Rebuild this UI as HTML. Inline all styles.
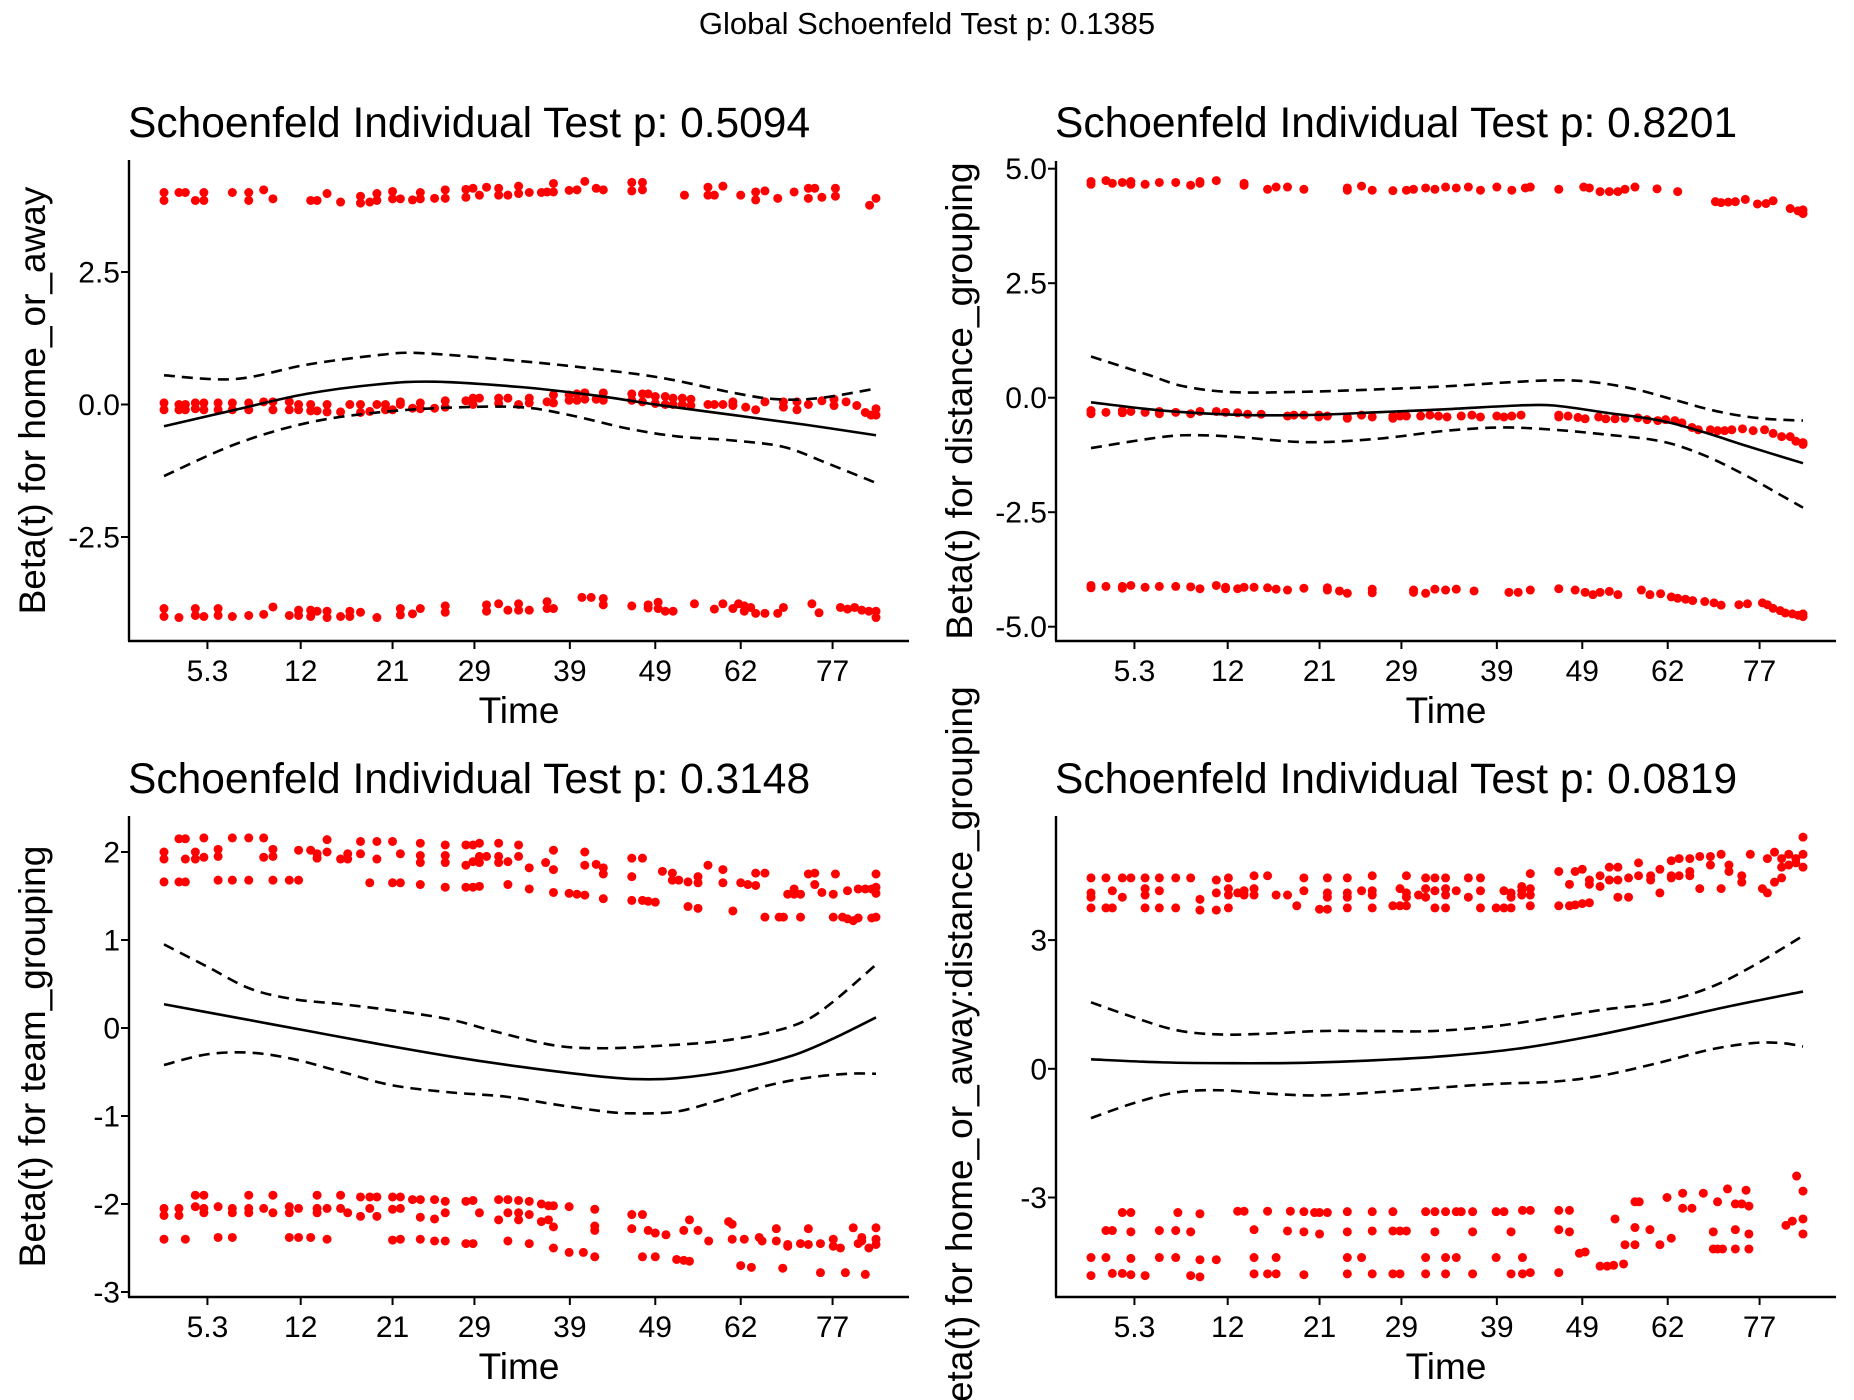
<!DOCTYPE html>
<html><head><meta charset="utf-8">
<style>
html,body{margin:0;padding:0;background:#fff;}
svg{display:block;font-family:"Liberation Sans",Arial,sans-serif;}
</style></head>
<body>
<svg id="chart" width="1854" height="1400" viewBox="0 0 1854 1400" xmlns="http://www.w3.org/2000/svg">
<rect width="1854" height="1400" fill="#fff"/>
<text x="927" y="34" font-size="31" text-anchor="middle">Global Schoenfeld Test p: 0.1385</text>
</svg>
<script>
// ---- shared x axis (transformed time, 0..100 rank scale) ----
const xTickLabels = ["5.3","12","21","29","39","49","62","77"];
const xTickU = [6.1,19.2,32.1,43.6,57.0,69.0,81.0,93.9];

// ---- panel 1: home_or_away ----
const p1Title = "Schoenfeld Individual Test p: 0.5094";
const p1YLabel = "Beta(t) for home_or_away";
const p1YTicks = [2.5,0,-2.5];
const p1YTickLabels = ["2.5","0.0","-2.5"];
const p1Points = [
[0,4.0,3.85,0.03,-0.1,-3.85,-4.0],[2.1,4.0,0.0,-0.1,-4.02],[3.0,4.0,0.0,-0.1],[4.4,3.85,0.03,-0.08,-3.85,-3.98],[5.6,4.0,3.85,0.03,-0.1,-4.0],
[7.6,0.03,-0.1,-3.85,-3.98],[9.6,4.0,0.03,-0.1,-4.0],[11.9,4.0,3.85,0.03,-0.1,-3.98],[14.0,4.05,0.05,-3.96],[15.3,3.88,0.05,-0.1,-3.82],
[17.6,0.05,-0.1,-3.98],[18.9,0.0,-0.1,-3.88,-3.98],[20.6,3.85,0.0,-0.12,-3.88,-4.0],[21.5,3.85,-0.12,-3.9],[22.9,3.98,0.0,-0.14,-3.9,-4.02],
[24.8,3.82,-0.14,-4.0],[26.1,0.0,-3.9,-4.0],[27.6,3.93,3.8,0.0,-0.15,-3.92],[28.9,3.82,-0.13],[29.9,3.85,3.98,0.0,-4.02],[31.1,0.0,-0.1],
[32.1,4.02,3.88,-0.1],[33.2,3.88,0.05,0.0,-3.85,-3.97],[34.9,3.86,-0.07,-3.95],[36.0,4.0,3.88,0.03,-0.08,-3.85],[38.0,3.89,-0.07],
[39.5,4.05,3.89,0.07,-0.05,-3.8,-3.92],[42.4,4.06,3.91,0.07],[43.4,4.08,0.12,0.0],[44.3,3.95,0.12],[45.3,4.1,-3.78,-3.9],[47.0,4.08,3.95,0.12,0.02,-3.76],
[48.3,3.95,0.12,-3.88],[49.8,4.12,3.98,0.0,-3.76,-3.88],[51.3,4.0,0.12,0.03,-3.88],[53.0,4.0],[53.8,4.01,0.05,-3.72,-3.85],[54.7,4.17,4.01,0.18,0.03,-3.85],
[56.9,4.04,0.18,0.08],[58.0,4.05,0.2,0.08],[58.7,-3.64],[59.1,4.21,0.22,0.1],[60.0,-3.64],[60.7,4.08,0.1],[61.7,4.05,0.22,0.08,-3.66,-3.78],
[65.7,4.19,4.03,0.2,0.08,-3.8],[67.2,4.19,4.05,0.2,0.05],[68.0,0.2,-3.78,-3.84],[69.0,0.15,0.02],[69.4,-3.73,-3.85],[70.4,0.15,0.0,-3.9],[71.5,0.12,0.0,-3.9],
[72.8,0.12,0.0],[73.1,3.95],[74.0,0.1,-0.02],[74.5,-3.76],[76.4,4.1,3.95,0.0],[77.3,3.95,0.0,-3.86],[78.5,4.12,0.0,-3.76],[79.9,0.05,-0.02,-3.85],
[80.7,-3.76],[81.0,3.95],[81.5,-3.8,-3.9],[81.7,-0.05],[82.4,-3.83],[83.1,4.01,3.86,-0.1,-3.94],[84.4,4.03,0.05,-3.94],[86.2,3.89,-3.94],[87.0,0.05,-0.05,-3.83],
[88.5,4.01],[88.9,0.05,-0.1],[90.5,4.08,3.89,0.0],[91.0,-3.76],[91.4,4.08],[92.0,-3.93],[92.4,3.91,0.07],[94.1,0.1,-0.02],[94.3,4.08,3.93],[95.0,-3.83],
[95.8,0.05],[96.0,-3.86],[97.0,-3.83],[97.3,-0.02],[98.0,-3.88],[98.5,-0.15],[99.0,-3.9],[99.1,3.76],[99.3,-0.2],[100,3.89,-0.08,-0.2,-3.9,-4.02]];
const p1FitU = [0,10,20,30,38,50,60,70,80,90,100];
const p1Fit = [-0.41,-0.1,0.2,0.38,0.43,0.33,0.18,-0.02,-0.2,-0.38,-0.58];
const p1UpU = [0,10,20,30,36,50,60,70,80,86,92,100];
const p1Up = [0.55,0.48,0.75,0.93,0.97,0.82,0.68,0.5,0.22,0.1,0.12,0.3];
const p1LoU = [0,10,20,30,40,50,57,65,72,80,87,93,100];
const p1Lo = [-1.35,-0.75,-0.35,-0.15,-0.06,-0.05,-0.2,-0.45,-0.6,-0.68,-0.8,-1.1,-1.48];

// ---- panel 2: distance_grouping ----
const p2Title = "Schoenfeld Individual Test p: 0.8201";
const p2YLabel = "Beta(t) for distance_grouping";
const p2YTicks = [5,2.5,0,-2.5,-5];
const p2YTickLabels = ["5.0","2.5","0.0","-2.5","-5.0"];
const p2Points = [
[0,4.72,4.66,-0.28,-0.35,-4.1,-4.15],[2.1,4.74,-0.32,-4.12],[3.0,4.68],[4.4,4.7,-0.28,-0.33,-4.12,-4.16],[5.6,4.72,4.66,-0.3,-4.1],[7.6,4.66,-0.32,-4.14],
[9.6,4.7,-0.3,-0.35,-4.12],[11.9,4.7,-0.32,-4.12],[14.0,4.64,-0.35,-4.13],[15.3,4.68,4.72,-0.3,-4.17],[17.6,4.74,-0.3,-4.1],[18.9,-0.32,-4.14,-4.17],
[20.6,-0.33,-4.17],[21.5,4.64,4.68,-4.14],[22.0,-0.36],[22.9,-4.14],[23.9,-0.36],[24.8,4.55,-4.15],[26.0,4.6,-4.18],[27.6,4.6,-0.4,-4.2],[28.5,-0.38],
[29.9,4.55,-0.38,-4.16],[32.0,-0.38,-0.42],[33.2,-0.4,-4.2,-4.15],[34.9,-4.22],[36.0,4.53,4.58,-0.42,-0.45,-4.27],[38.0,4.62,-0.38],[39.5,4.53,-0.42,-4.18,-4.26],
[42.4,4.52,-0.4,-0.45],[43.4,-0.4],[44.3,4.53,-0.4],[45.3,4.55,-4.2,-4.25],[46.3,-0.4],[47.0,4.58,-4.27],[47.6,-0.38],[48.3,4.55,-4.18],[48.8,-0.4],
[49.8,4.6,-4.2],[50.0,-0.42],[51.3,4.58,-4.18],[52.0,-0.4],[53.0,4.6],[53.5,-0.38],[53.8,-4.22],[54.7,4.53,-0.42],[57.0,4.6,-0.4],[58.0,-0.42],
[58.7,-4.25],[59.1,4.53,-0.4],[60.0,-4.25],[60.4,-0.38],[61.0,4.58],[61.7,4.6,-4.2],[65.7,4.55,-0.38,-0.42,-4.17],[67.0,-0.4],[68.0,-4.2],[68.4,-0.43],
[69.2,4.6],[69.4,-0.46,-4.25],[70.0,4.58],[70.5,-4.3],[71.3,-0.42],[71.5,4.5,-4.25],[72.3,-0.46],[72.8,4.5,-4.23],[73.6,-0.46],[74.0,4.5,-4.3],[75.0,4.55,-0.45],
[76.4,4.6],[76.8,-0.44],[77.3,-4.2],[78.1,-0.48],[78.5,-4.3],[79.5,4.56],[79.6,-0.5],[80.0,-4.28],[80.7,-0.48],[81.5,-4.35],[82.0,-0.5],[82.4,4.5,-4.38],
[83.0,-0.55],[83.5,-4.4],[84.4,-0.65],[84.5,-4.43],[85.3,-0.7],[86.2,-4.45],[87.0,-0.7],[87.5,-4.48],[87.7,4.28],[88.0,-0.72],[88.5,4.26,-4.53],[89.0,-0.72],
[89.5,4.27],[90.0,-0.7],[90.5,4.28],[91.0,-4.52],[91.5,-0.68],[91.9,4.33],[92.2,-4.5],[93.0,-0.72],[93.6,4.23],[94.3,-4.48],[94.6,-0.7],[94.8,4.24],[95.0,-4.52],
[95.8,4.3,-0.78,-4.6],[96.8,-4.65],[97.0,-0.85],[97.5,-4.7],[98.2,4.13,-0.85],[98.5,-4.72],[99.0,-0.95],[99.3,4.08,-4.75],[100,4.02,4.1,-0.98,-1.02,-4.78,-4.72]];
const p2FitU = [0,10,20,30,40,50,60,65,72,80,86,92,100];
const p2Fit = [-0.1,-0.28,-0.37,-0.38,-0.32,-0.25,-0.17,-0.17,-0.32,-0.5,-0.75,-1.05,-1.43];
const p2UpU = [0,8,13,20,30,40,50,58,65,70,76,82,88,94,100];
const p2Up = [0.9,0.5,0.25,0.12,0.13,0.18,0.25,0.33,0.38,0.35,0.2,-0.05,-0.3,-0.45,-0.5];
const p2LoU = [0,8,13,20,30,40,50,58,65,72,80,86,92,96,100];
const p2Lo = [-1.1,-0.9,-0.82,-0.85,-0.97,-0.9,-0.72,-0.65,-0.7,-0.8,-0.95,-1.25,-1.7,-2.05,-2.4];

// ---- panel 3: team_grouping ----
const p3Title = "Schoenfeld Individual Test p: 0.3148";
const p3YLabel = "Beta(t) for team_grouping";
const p3YTicks = [2,1,0,-1,-2,-3];
const p3YTickLabels = ["2","1","0","-1","-2","-3"];
const p3Points = [
[0,2.0,1.92,1.66,-2.05,-2.13,-2.4],[2.1,2.15,1.66,-2.05,-2.13],[3.0,2.15,1.92,1.66,-2.4],[4.4,2.0,1.92,-2.03,-1.9],[5.6,2.16,1.94,-1.9,-2.05,-2.1],
[7.6,2.03,1.95,1.68,-2.03,-2.38],[9.6,2.16,1.68,-2.05,-2.1,-2.38],[11.9,2.16,1.68,-1.9,-2.05,-2.1],[14.0,2.16,1.94,-2.05],[15.3,2.03,1.95,1.68,-1.9,-2.1],
[17.6,1.68,-2.03,-2.1,-2.38],[18.9,2.02,1.68,-2.05,-2.38],[20.6,2.02,-2.38],[21.5,1.98,1.93,-1.9,-2.05,-2.1],[22.9,2.14,2.0,-2.05,-2.4],[24.8,1.92,-1.9,-2.05],
[25.8,1.98,1.92,-2.1],[27.6,2.12,1.98,-1.92,-2.14],[28.9,1.65,-1.92,-2.05],[29.9,2.12,1.92,-1.92,-2.14],[32.1,2.12,1.65,-1.92,-2.06,-2.41],[33.2,1.98,1.65,-1.92,-2.05,-2.4],
[34.9,-1.95],[36.0,2.1,1.96,1.88,1.63,-1.95,-2.15,-2.4],[38.0,-1.95,-2.17,-2.42],[39.5,2.08,1.96,1.88,1.6,-1.97,-2.1,-2.42],[42.4,2.08,1.85,1.6,-1.97,-2.45],
[43.4,2.08,1.89,1.6,-1.96,-2.45],[44.3,2.1,1.95,1.88,1.61,-2.1],[45.3,1.95],[47.0,2.1,1.95,1.88,-1.95,-2.18],[48.3,1.89,1.63,-1.95,-2.1,-2.42],
[49.8,2.08,1.95,-1.96,-2.1,-2.18],[51.3,1.82,1.58,-1.97,-2.12,-2.45],[53.0,-2.0,-2.2],[53.6,1.88],[54.0,-2.02,-2.18],[54.7,2.02,1.8,1.54,-2.02,-2.26,-2.5],
[56.9,1.53,-2.03,-2.55],[58.0,1.52],[58.9,-2.55],[59.1,2.0,1.85,1.51],[60.5,-2.06,-2.25,-2.3,-2.6],[60.7,1.86],[61.7,1.82,1.75,1.47],[65.7,1.93,1.72,1.45,-2.12,-2.28],
[67.2,1.93,1.45,-2.12,-2.6],[68.0,1.44,-2.3],[69.0,1.43,-2.33,-2.6],[70.0,1.78],[70.5,-2.35],[71.4,1.76,1.68],[72.0,-2.63],[72.3,1.68],[73.0,-2.3,-2.64],
[73.6,1.66,1.38],[73.8,-2.18,-2.65],[75.0,1.72,1.65,1.36,-2.3],[76.4,1.85],[76.5,-2.42],[78.5,1.8,1.65],[79.3,-2.2],[79.8,-2.4,-2.23],[79.9,1.33],
[81.0,1.65,-2.7],[81.5,-2.4],[82.0,1.63],[82.5,-2.72],[83.1,1.76,1.62],[83.6,-2.38],[84.0,-2.42],[84.4,1.76,1.26],[86.0,-2.28,-2.42],[86.4,1.26],[86.9,-2.73],
[87.0,1.26],[87.6,1.52,-2.46,-2.48],[88.5,1.58,1.52],[89.4,1.52,1.26,-2.45],[90.5,1.75,-2.28,-2.46],[91.4,1.76,1.63],[92.2,-2.45,-2.78],[92.4,1.54],
[94.0,1.52,1.26,-2.4,-2.48],[94.3,1.75],[95.0,-2.5],[95.3,1.26],[95.7,-2.78],[96.0,1.56,1.24],[96.8,1.22,-2.27],[97.5,1.58,1.25,-2.45],[98.0,-2.42,-2.38],
[98.5,1.58,-2.8],[99.0,-2.5],[99.4,1.58,1.25],[100,1.75,1.6,1.53,1.26,-2.27,-2.46,-2.4]];
const p3FitU = [0,10,20,30,40,50,60,66,72,80,88,94,100];
const p3Fit = [0.27,0.12,-0.03,-0.18,-0.32,-0.44,-0.54,-0.58,-0.57,-0.48,-0.32,-0.12,0.12];
const p3UpU = [0,6,12,18,25,32,40,47,55,62,70,78,85,90,94,100];
const p3Up = [0.95,0.7,0.45,0.33,0.27,0.2,0.1,-0.05,-0.2,-0.23,-0.2,-0.15,-0.05,0.08,0.3,0.72];
const p3LoU = [0,6,12,18,25,32,40,48,55,62,66,72,78,84,90,96,100];
const p3Lo = [-0.42,-0.3,-0.28,-0.35,-0.5,-0.65,-0.73,-0.78,-0.87,-0.95,-0.97,-0.95,-0.82,-0.67,-0.57,-0.52,-0.52];

// ---- panel 4: home_or_away:distance_grouping ----
const p4Title = "Schoenfeld Individual Test p: 0.0819";
const p4YLabel = "Beta(t) for home_or_away:distance_grouping";
const p4YTicks = [3,0,-3];
const p4YTickLabels = ["3","0","-3"];
const p4Points = [
[0,4.45,4.1,4.0,3.75,-4.4,-4.82],[2.1,4.45,3.75,-3.77,-4.4],[3.0,4.15,3.75,-3.77,-4.77],[4.4,4.45,4.0,-3.35,-4.77],[5.6,4.45,-3.35,-3.8,-4.42,-4.8],
[7.6,4.45,4.2,4.05,3.75,-4.82],[9.6,4.45,4.15,3.75,-3.77,-4.4],[11.9,4.45,3.75,-3.77,-4.4],[12.2,-3.35],[14.0,4.45,-3.8,-4.82],[15.3,3.95,3.7,-3.38,-4.45,-4.85],
[17.6,4.4,4.1,3.7,-4.45],[19.3,4.45,4.2,4.05,3.75],[20.6,4.1,-3.32],[21.5,4.15,4.05,-3.32],[22.9,4.5,4.2,4.05,-3.75,-4.4,-4.78],[24.8,4.5,-3.32,-4.78],
[26.0,4.05,-4.4,-4.78],[27.6,4.05,-3.78],[28.0,-3.32],[28.9,3.8],[29.9,4.45,4.15,-3.33,-3.8,-4.8],[31.4,-3.35],[32.1,3.72,-3.35,-3.85],
[33.2,4.45,4.1,4.0,3.72,-3.35],[36.0,4.45,4.1,4.0,3.75,-3.33,-3.8,-4.4,-4.78],[38.0,4.15,-4.4],[39.5,4.5,4.15,4.05,3.75,-3.33,-3.78,-4.78],
[42.4,3.8,-3.33,-3.78,-4.78],[43.4,4.2,3.8,-3.78,-4.78],[44.3,4.5,4.1,4.0,3.8,-3.78],[46.0,4.05],[47.0,4.45,4.2,4.0,-3.33,-4.4,-4.78],
[48.3,4.45,4.15,3.75,-3.33,-3.8],[49.8,4.45,4.2,4.05,3.75,-3.33,-4.4,-4.78],[51.3,4.15,-3.33,-4.4],[52.0,-3.33],[53.0,4.45,4.0],[53.6,-3.33,-3.8,-4.78],
[54.7,4.45,4.15,3.75],[56.9,3.75,-3.33,-4.4],[58.0,4.15,3.75,-3.33],[59.0,4.1,4.0,3.75,-3.8,-4.78],[60.5,4.25,4.05,4.15],[60.6,-3.3,-4.4,-4.78],
[61.7,4.55,4.2,4.05,3.8,-3.3,-4.75],[65.7,4.6,3.8,-3.3,-3.75,-4.75],[67.2,4.3,3.8,-3.3,-3.8],[68.0,4.6,3.82],[68.6,-4.3],[69.0,4.65,3.85],[69.4,-4.27],
[70.0,4.4,4.3,3.87],[71.5,4.5,4.25,-4.6],[72.5,-4.6],[72.8,4.7,4.4],[73.4,-4.58],[73.6,-3.5],[74.0,4.7,4.4,4.0],[74.8,-4.55],[75.0,-4.1],[75.5,4.45,4.0],
[76.4,-3.1,-3.7,-4.1],[76.9,4.8,4.5],[77.0,-3.1],[78.5,-3.75],[78.6,4.5,4.4],[79.9,4.65,4.1,-4.1],[80.9,-3.0],[81.5,4.85,4.5,4.45,-3.95],
[82.6,4.9,4.5],[83.1,-2.9,-3.25],[84.1,4.9,4.6,4.5],[84.4,-3.25],[85.5,4.95,4.2],[86.0,-2.9],[87.0,4.95,4.75],[87.4,-3.8,-4.2],[88.0,-3.1,-4.2],
[88.5,5.0,4.2],[88.7,-4.2],[89.4,-2.8],[89.6,4.75,4.6],[90.5,-3.15,-3.75,-4.2],[91.4,4.5,4.35,-3.15],[92.0,-2.83],[92.4,-3.2,-3.85,-4.2],[92.6,5.0],
[94.3,4.2],[95.0,4.1,4.9],[96.0,5.05,4.35],[97.0,4.9,4.7,4.45],[97.6,-3.65],[98.0,4.75,5.0],[98.5,-3.55],[99.0,4.9,4.8],[99.1,-2.5],[100,5.4,5.0,4.7,-3.5,-2.85,-3.85]];
const p4FitU = [0,10,20,30,40,50,60,70,80,90,100];
const p4Fit = [0.22,0.15,0.13,0.14,0.2,0.3,0.47,0.75,1.1,1.47,1.8];
const p4UpU = [0,6,12,18,25,32,40,48,57,65,72,80,87,93,100];
const p4Up = [1.55,1.2,0.9,0.8,0.82,0.88,0.88,0.88,1.0,1.2,1.38,1.55,1.9,2.4,3.1];
const p4LoU = [0,6,12,18,25,32,40,48,57,65,72,80,87,93,97,100];
const p4Lo = [-1.15,-0.8,-0.55,-0.5,-0.58,-0.62,-0.55,-0.45,-0.35,-0.3,-0.15,0.15,0.45,0.6,0.6,0.52];

const NS = "http://www.w3.org/2000/svg";
const svg = document.getElementById("chart");
function mk(tag, attrs, parent){ const e=document.createElementNS(NS,tag); for(const k in attrs) e.setAttribute(k,attrs[k]); (parent||svg).appendChild(e); return e; }

function smoothPath(pts){
  let d = "M"+pts[0][0].toFixed(2)+","+pts[0][1].toFixed(2);
  for(let i=0;i<pts.length-1;i++){
    const p0=pts[Math.max(0,i-1)], p1=pts[i], p2=pts[i+1], p3=pts[Math.min(pts.length-1,i+2)];
    const c1=[p1[0]+(p2[0]-p0[0])/6, p1[1]+(p2[1]-p0[1])/6];
    const c2=[p2[0]-(p3[0]-p1[0])/6, p2[1]-(p3[1]-p1[1])/6];
    d+=" C"+c1[0].toFixed(2)+","+c1[1].toFixed(2)+" "+c2[0].toFixed(2)+","+c2[1].toFixed(2)+" "+p2[0].toFixed(2)+","+p2[1].toFixed(2);
  }
  return d;
}

function drawPanel(cfg){
  const g = mk("g",{});
  
  
  const xS = u => cfg.ox + 164 + u*7.12;
  const yS = v => cfg.y0 - v*cfg.k;
  const axL = cfg.ox + 129, axR = cfg.ox + 909;
  const t = mk("text",{x:cfg.ox+128,y:cfg.titleY,"font-size":42.5},g);
  t.textContent = cfg.title;
  
  
  const pg = mk("g",{fill:"#ff0000"},g);
  
  
  cfg.points.forEach(row=>{
    for(let j=1;j<row.length;j++){
      const c = mk("circle",{cx:xS(row[0]).toFixed(2),cy:yS(row[j]).toFixed(2),r:4.5},pg);
      
      
    }
  });
  const curve = (us, vs, dash, nm) => {
    const p = mk("path",{d:smoothPath(us.map((u,i)=>[xS(u),yS(vs[i])])),fill:"none",stroke:"#000","stroke-width":2.6},g);
    if(dash) p.setAttribute("stroke-dasharray","11 7");
    
    
  };
  curve(cfg.fitU, cfg.fit, false, 'beta-fit-line');
  curve(cfg.upU, cfg.up, true, 'upper-ci-line');
  curve(cfg.loU, cfg.lo, true, 'lower-ci-line');
  const ya = mk("line",{x1:axL,y1:cfg.top,x2:axL,y2:cfg.bottom,stroke:"#000","stroke-width":2.4},g);
  
  
  const xa = mk("line",{x1:axL-1,y1:cfg.bottom,x2:axR,y2:cfg.bottom,stroke:"#000","stroke-width":2.4},g);
  
  
  xTickU.forEach((u,i)=>{
    const x=xS(u);
    const tk = mk("line",{x1:x,y1:cfg.bottom,x2:x,y2:cfg.bottom+8,stroke:"#000","stroke-width":2},g);
    
    
    const tl = mk("text",{x:x,y:cfg.bottom+40,"font-size":30,"text-anchor":"middle",fill:"#000"},g);
    tl.textContent = xTickLabels[i];
    
    
  });
  cfg.yTicks.forEach((v,i)=>{
    const y=yS(v);
    const tk = mk("line",{x1:axL-8,y1:y,x2:axL,y2:y,stroke:"#000","stroke-width":2},g);
    
    
    const tl = mk("text",{x:axL-9,y:y+10.5,"font-size":30,"text-anchor":"end",fill:"#000"},g);
    tl.textContent = cfg.yTickLabels[i];
    
    
  });
  const xt = mk("text",{x:cfg.ox+519,y:cfg.bottom+82,"font-size":37,"text-anchor":"middle"},g);
  xt.textContent = "Time";
  
  
  const cy = (cfg.top+cfg.bottom)/2;
  const yt = mk("text",{x:0,y:0,"font-size":37,"text-anchor":"middle",transform:"translate("+(cfg.ox+45)+","+cy+") rotate(-90)"},g);
  yt.textContent = cfg.yLabel;
  
  
}

drawPanel({name:"panel-home-or-away",ox:0,top:160,bottom:641,titleY:137,y0:404.5,k:53,title:p1Title,yLabel:p1YLabel,yTicks:p1YTicks,yTickLabels:p1YTickLabels,points:p1Points,fitU:p1FitU,fit:p1Fit,upU:p1UpU,up:p1Up,loU:p1LoU,lo:p1Lo});
drawPanel({name:"panel-distance-grouping",ox:927,top:161,bottom:641,titleY:137,y0:397.7,k:45.8,title:p2Title,yLabel:p2YLabel,yTicks:p2YTicks,yTickLabels:p2YTickLabels,points:p2Points,fitU:p2FitU,fit:p2Fit,upU:p2UpU,up:p2Up,loU:p2LoU,lo:p2Lo});
drawPanel({name:"panel-team-grouping",ox:0,top:816,bottom:1297,titleY:793,y0:1028,k:88,title:p3Title,yLabel:p3YLabel,yTicks:p3YTicks,yTickLabels:p3YTickLabels,points:p3Points,fitU:p3FitU,fit:p3Fit,upU:p3UpU,up:p3Up,loU:p3LoU,lo:p3Lo});
drawPanel({name:"panel-interaction",ox:927,top:816,bottom:1297,titleY:793,y0:1068.8,k:42.9,title:p4Title,yLabel:p4YLabel,yTicks:p4YTicks,yTickLabels:p4YTickLabels,points:p4Points,fitU:p4FitU,fit:p4Fit,upU:p4UpU,up:p4Up,loU:p4LoU,lo:p4Lo});
</script>
</body></html>
